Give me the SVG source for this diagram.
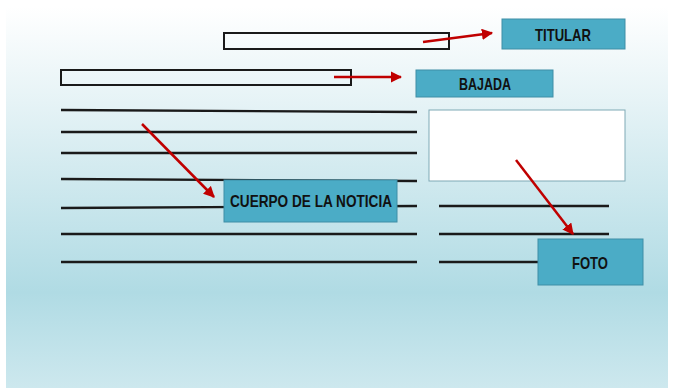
<svg xmlns="http://www.w3.org/2000/svg" width="674" height="388" viewBox="0 0 674 388">
<defs>
<linearGradient id="bg" x1="0" y1="0" x2="0" y2="1">
<stop offset="0" stop-color="#ffffff"/>
<stop offset="0.25" stop-color="#e6f3f6"/>
<stop offset="0.75" stop-color="#b0dbe4"/>
<stop offset="1" stop-color="#cde8ee"/>
</linearGradient>
<marker id="ah" viewBox="0 0 10 10" refX="9" refY="5" markerWidth="4.5" markerHeight="4.5" orient="auto" markerUnits="strokeWidth">
<path d="M0,0 L10,5 L0,10 z" fill="#c00000"/>
</marker>
<style>
.box{fill:#4bacc6;stroke:#3f8ea6;stroke-width:1}
.lbl{font-family:"Liberation Sans Narrow","Liberation Sans",Arial,sans-serif;font-size:17px;font-weight:bold;fill:#111;text-anchor:middle}
.ln{stroke:#1a1a1a;stroke-width:2.3;fill:none}
.outline{fill:none;stroke:#1a1a1a;stroke-width:2}
.arr{stroke:#c00000;stroke-width:2.5;fill:none;marker-end:url(#ah)}
</style>
</defs>
<rect x="0" y="0" width="674" height="388" fill="#ffffff"/>
<rect x="6" y="6" width="662" height="382" fill="url(#bg)"/>
<g id="text-lines">
<rect class="outline" x="224" y="33" width="225" height="16"/>
<rect class="outline" x="61" y="70" width="290" height="15"/>
<line class="ln" x1="61" y1="110" x2="417" y2="112"/>
<line class="ln" x1="61" y1="132" x2="417" y2="132"/>
<line class="ln" x1="61" y1="153" x2="417" y2="153"/>
<line class="ln" x1="61" y1="179" x2="417" y2="181"/>
<line class="ln" x1="61" y1="208" x2="417" y2="206"/>
<line class="ln" x1="61" y1="234" x2="417" y2="234"/>
<line class="ln" x1="61" y1="262" x2="417" y2="262"/>
<line class="ln" x1="439" y1="206" x2="609" y2="206"/>
<line class="ln" x1="439" y1="234" x2="609" y2="234"/>
<line class="ln" x1="439" y1="262" x2="540" y2="262"/>
</g>
<g id="photo">
<rect x="429" y="110" width="196" height="71" fill="#ffffff" stroke="#7fa9b5" stroke-width="1"/>
</g>
<g id="titular">
<rect class="box" x="502" y="19" width="123" height="30"/>
<text class="lbl" x="563" y="41" textLength="56" lengthAdjust="spacingAndGlyphs">TITULAR</text>
</g>
<g id="bajada">
<rect class="box" x="416" y="70" width="137" height="27"/>
<text class="lbl" x="485" y="90" textLength="52" lengthAdjust="spacingAndGlyphs">BAJADA</text>
</g>
<g id="cuerpo">
<rect class="box" x="224" y="180" width="173" height="42"/>
<text class="lbl" x="311" y="207" textLength="162" lengthAdjust="spacingAndGlyphs">CUERPO  DE LA NOTICIA</text>
</g>
<g id="foto">
<rect class="box" x="538" y="239" width="105" height="46"/>
<text class="lbl" x="590" y="269" textLength="36" lengthAdjust="spacingAndGlyphs">FOTO</text>
</g>
<g id="connectors">
<line class="arr" x1="423" y1="42" x2="492" y2="33"/>
<line class="arr" x1="334" y1="77" x2="401" y2="77"/>
<line class="arr" x1="142" y1="124" x2="214" y2="197"/>
<line class="arr" x1="516" y1="160" x2="573" y2="234"/>
</g>
</svg>
